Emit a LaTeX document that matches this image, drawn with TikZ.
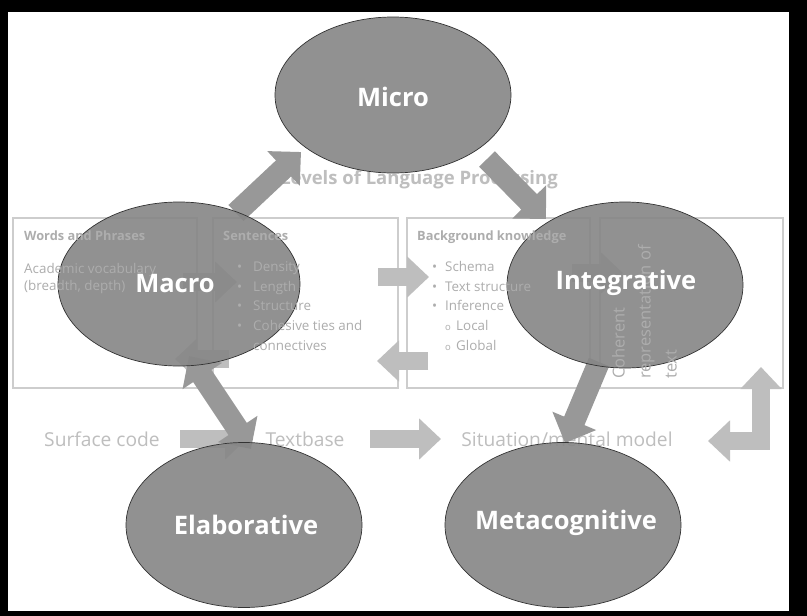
\documentclass[tikz,border=0pt]{standalone}
\usepackage{fontspec}
\setmainfont{Open Sans}
\usetikzlibrary{shapes.geometric,arrows.meta}

\definecolor{ellgray}{HTML}{868686}
\definecolor{darkarrow}{HTML}{989898}
\definecolor{lightarrow}{HTML}{BEBEBE}
\definecolor{boxline}{HTML}{CDCDCD}
\definecolor{boxtext}{HTML}{ADADAD}

\tikzset{
  level/.style={ellipse, draw=black!80, line width=0.7pt, fill=ellgray, fill opacity=0.9,
    minimum width=236pt, minimum height=162pt, inner sep=0pt},
  levelname/.style={text=white, font=\fontsize{25.5}{30}\selectfont\bfseries, inner sep=0pt},
  panel/.style={draw=boxline, line width=1.2pt, minimum width=184pt, minimum height=170pt, inner sep=0pt},
  bigarrow/.style={draw=darkarrow, line width=22pt, -{Triangle[length=24pt,width=46pt]}},
  bgarrow/.style={draw=lightarrow, line width=18pt, -{Triangle[length=22pt,width=40pt]}},
  boxhead/.style={anchor=base west, inner sep=0pt, text=boxtext, font=\fontsize{12.8}{15}\selectfont\bfseries},
  boxitem/.style={anchor=base west, inner sep=0pt, text=boxtext, font=\fontsize{13.4}{16}\selectfont},
  rowlabel/.style={anchor=base, inner sep=0pt, text=lightarrow, font=\fontsize{19.2}{22}\selectfont}
}

\begin{document}
\begin{tikzpicture}[x=1pt,y=-1pt]
    % frame
    \fill[black](0,0)rectangle(807,616);
    \fill[white](8,12)rectangle(789,611);

    % background: levels of language processing
    \node[rowlabel,font=\fontsize{18.5}{22}\selectfont\bfseries](title)at(419,184){Levels of Language Processing};

    \node[panel](words)at(105,303){};
    \node[panel,minimum width=185pt](sent)at(305.5,303){};
    \node[panel,minimum width=183pt](back)at(498.5,303){};
    \node[panel,minimum width=183pt](cohe)at(691.5,303){};

    \node[rowlabel](surf)at(102,446){Surface code};
    \node[rowlabel](tbase)at(305,446){Textbase};
    \node[rowlabel](situ)at(567,446){Situation/mental model};

    % light arrows of the background
    \coordinate(wr)at(183,282);\coordinate(sl)at(237,282);
    \coordinate(sb)at(229,359);\coordinate(wb)at(175,359);
    \coordinate(sr)at(378,277);\coordinate(bl)at(429,277);
    \coordinate(bb)at(428,361);\coordinate(sbb)at(377,361);
    \coordinate(br)at(572,273);\coordinate(cl)at(623,273);
    \coordinate(surfr)at(180,439);\coordinate(tbasel)at(247,439);
    \coordinate(tbaser)at(370,439);\coordinate(situl)at(441,439);
    \coordinate(situr)at(708,441);\coordinate(coheb)at(761,367);

    \draw[bgarrow](wr)--(sl);
    \draw[bgarrow](sb)--(wb);
    \draw[bgarrow](sr)--(bl);
    \draw[bgarrow](bb)--(sbb);
    \draw[bgarrow](br)--(cl);
    \draw[bgarrow](surfr)--(tbasel);
    \draw[bgarrow](tbaser)--(situl);
    \draw[bgarrow,{Triangle[length=22pt,width=40pt]}-{Triangle[length=22pt,width=40pt]}](situr)-|(coheb);

    % arrows between the levels
    \coordinate(macrotop)at(236,213);\coordinate(microsw)at(301,152);
    \coordinate(microse)at(487,159);\coordinate(integnw)at(546,219);
    \coordinate(integs)at(599,362);\coordinate(metan)at(565,443);
    \coordinate(macros)at(189,356);\coordinate(elabn)at(251,449);

    \draw[bigarrow](macrotop)--(microsw);
    \draw[bigarrow](microse)--(integnw);
    \draw[bigarrow](integs)--(metan);
    \draw[bigarrow,{Triangle[length=24pt,width=46pt]}-{Triangle[length=24pt,width=46pt]}](macros)--(elabn);

    % the five levels
    \node[level,minimum height=156pt](micro)at(393,95){};
    \node[level,minimum width=242pt,minimum height=164pt](macro)at(179,284){};
    \node[level,minimum height=166pt](integ)at(625,285){};
    \node[level,minimum height=165pt](elab)at(244,525){};
    \node[level,minimum height=165pt](meta)at(563,525){};

    % panel texts, seen through the levels
    \node[boxhead](wordshead)at(24,240){Words and Phrases};
    \node[boxitem](wordsa)at(24,273){Academic vocabulary};
    \node[boxitem](wordsb)at(24,290){(breadth, depth)};

    \node[boxhead](senthead)at(223,240){Sentences};
    \foreach \yy/\txt [count=\i] in {271/Density,291/Length,310/Structure,330/Cohesive ties and}{
        \node[boxitem](sentdot\i)at(237,\yy){•};
        \node[boxitem](sent\i)at(253,\yy){\txt};
    }
    \node[boxitem](sent5)at(253,350){connectives};

    \node[boxhead](backhead)at(417,240){Background knowledge};
    \foreach \yy/\txt [count=\i] in {271/Schema,291/Text structure,310/Inference}{
        \node[boxitem](backdot\i)at(432,\yy){•};
        \node[boxitem](back\i)at(445,\yy){\txt};
    }
    \foreach \yy/\txt [count=\i] in {330/Local,350/Global}{
        \node[boxitem,font=\fontsize{9.5}{11}\selectfont](subdot\i)at(445,\yy){o};
        \node[boxitem](sub\i)at(456,\yy){\txt};
    }

    \node[rotate=90,anchor=north west,align=left,inner sep=0pt,text=boxtext,
        font=\fontsize{16.5}{26}\selectfont](cohetext)at(612,379){Coherent\\representation of\\text};

    % level names
    \node[levelname](micron)at(393,97){Micro};
    \node[levelname](macron)at(175,284){Macro};
    \node[levelname](integn)at(626,283){Integrative};
    \node[levelname](elabn)at(246,525){Elaborative};
    \node[levelname](metan)at(566,523){Metacognitive};
\end{tikzpicture}
\end{document}
